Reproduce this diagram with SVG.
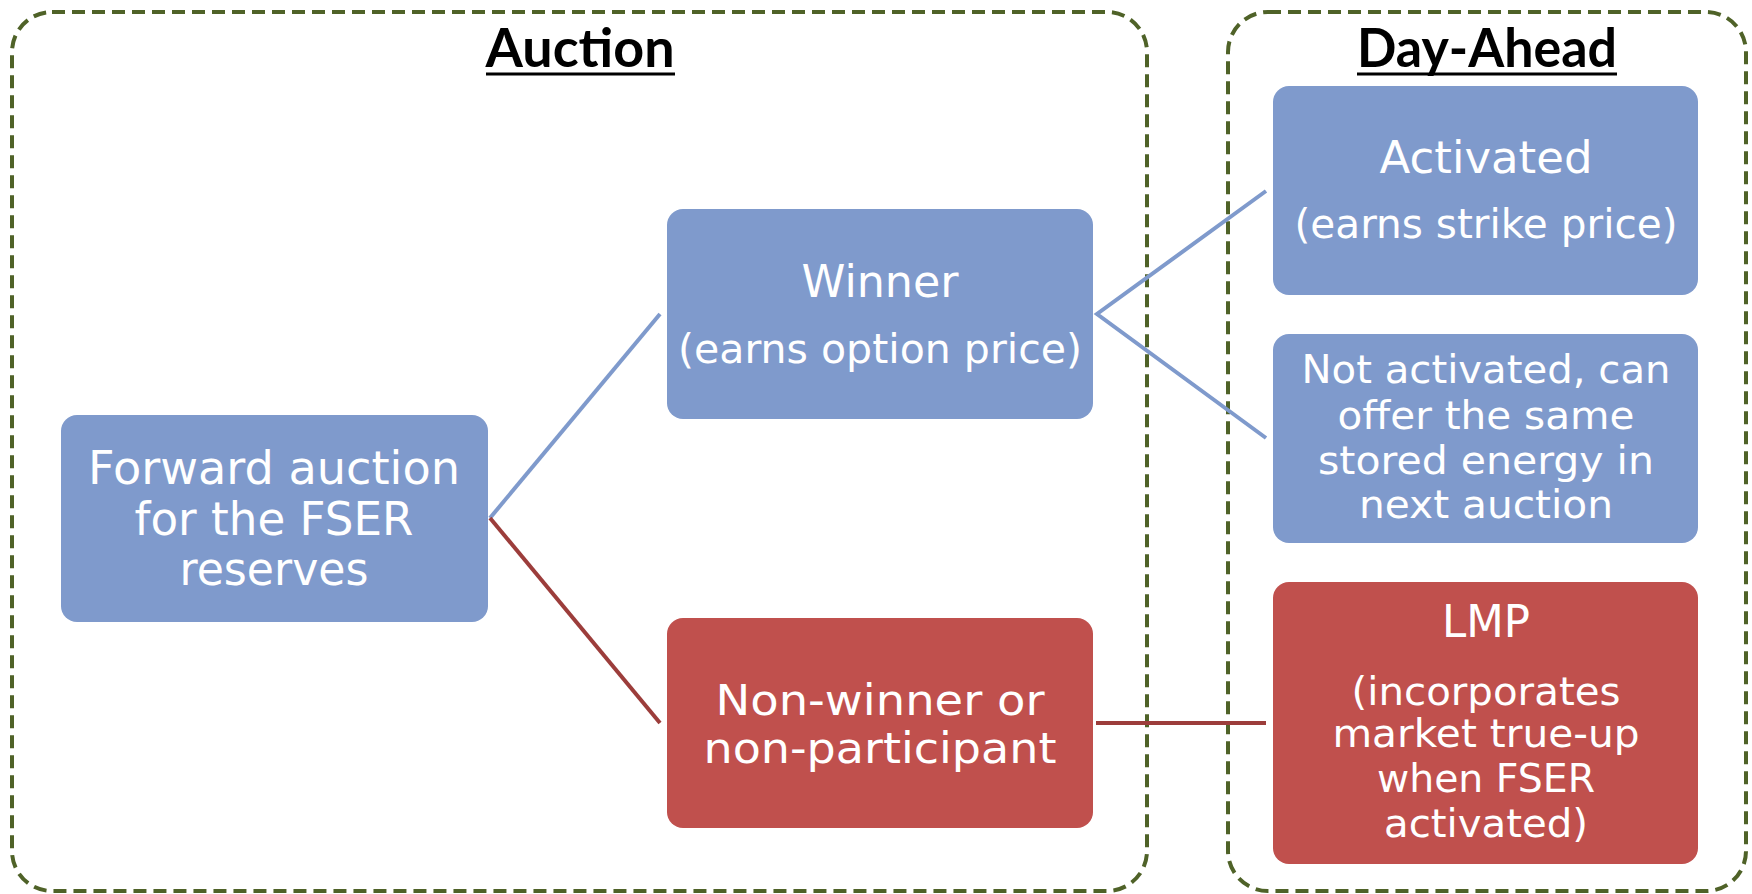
<svg xmlns="http://www.w3.org/2000/svg" width="1752" height="894" viewBox="0 0 1752 894">
  <style>
    .zone { fill: none; stroke: #4F6228; stroke-width: 4; stroke-dasharray: 13 7; }
    .title { font-family: Lato, "Liberation Sans", sans-serif; font-weight: 700; font-size: 54px; fill: #000; text-anchor: middle; }
    .uline { stroke: #000; stroke-width: 3; }
    .blue { fill: #7F9ACC; }
    .red { fill: #C0504D; }
    .lbl { font-family: "DejaVu Sans", sans-serif; fill: #fff; text-anchor: middle; }
    .link-blue { stroke: #7F9ACC; stroke-width: 4; fill: none; }
    .link-red { stroke: #9C3D3B; stroke-width: 4; fill: none; }
  </style>

  <!-- phase containers -->
  <g id="auction-zone">
    <rect class="zone" x="12" y="12" width="1135" height="879" rx="40" ry="40"/>
    <text class="title" x="580" y="67" textLength="189" lengthAdjust="spacingAndGlyphs">Auction</text>
    <line class="uline" x1="486" y1="74" x2="675" y2="74"/>
  </g>
  <g id="day-ahead-zone">
    <rect class="zone" x="1228" y="12" width="518" height="879" rx="40" ry="40"/>
    <text class="title" x="1487" y="67" textLength="260" lengthAdjust="spacingAndGlyphs">Day-Ahead</text>
    <line class="uline" x1="1357" y1="74" x2="1617" y2="74"/>
  </g>

  <!-- connectors -->
  <g id="connectors">
    <line class="link-blue" x1="490" y1="518" x2="660" y2="314"/>
    <line class="link-red" x1="490" y1="518" x2="660" y2="723"/>
    <polyline class="link-blue" points="1266,191 1097,314 1266,438"/>
    <line class="link-red" x1="1096" y1="723" x2="1266" y2="723"/>
  </g>

  <g id="forward-auction">
    <rect class="blue" x="61" y="415" width="427" height="207" rx="16" ry="16"/>
    <text class="lbl" font-size="46" x="274" y="484" textLength="372" lengthAdjust="spacingAndGlyphs">Forward auction</text>
    <text class="lbl" font-size="46" x="274" y="535" textLength="279" lengthAdjust="spacingAndGlyphs">for the FSER</text>
    <text class="lbl" font-size="46" x="274" y="585" textLength="189" lengthAdjust="spacingAndGlyphs">reserves</text>
  </g>

  <g id="winner">
    <rect class="blue" x="667" y="209" width="426" height="210" rx="16" ry="16"/>
    <text class="lbl" x="880" y="297" font-size="44" textLength="157" lengthAdjust="spacingAndGlyphs">Winner</text>
    <text class="lbl" x="880" y="363" font-size="41" textLength="404" lengthAdjust="spacingAndGlyphs">(earns option price)</text>
  </g>

  <g id="non-winner">
    <rect class="red" x="667" y="618" width="426" height="210" rx="16" ry="16"/>
    <text class="lbl" font-size="43" x="880" y="715" textLength="329" lengthAdjust="spacingAndGlyphs">Non-winner or</text>
    <text class="lbl" font-size="43" x="880" y="763" textLength="353" lengthAdjust="spacingAndGlyphs">non-participant</text>
  </g>

  <g id="activated">
    <rect class="blue" x="1273" y="86" width="425" height="209" rx="16" ry="16"/>
    <text class="lbl" x="1486" y="173" font-size="45" textLength="213" lengthAdjust="spacingAndGlyphs">Activated</text>
    <text class="lbl" x="1486" y="238" font-size="40" textLength="383" lengthAdjust="spacingAndGlyphs">(earns strike price)</text>
  </g>

  <g id="not-activated">
    <rect class="blue" x="1273" y="334" width="425" height="209" rx="16" ry="16"/>
    <text class="lbl" font-size="39" x="1486" y="383" textLength="369" lengthAdjust="spacingAndGlyphs">Not activated, can</text>
    <text class="lbl" font-size="39" x="1486" y="429" textLength="297" lengthAdjust="spacingAndGlyphs">offer the same</text>
    <text class="lbl" font-size="39" x="1486" y="474" textLength="336" lengthAdjust="spacingAndGlyphs">stored energy in</text>
    <text class="lbl" font-size="39" x="1486" y="518" textLength="254" lengthAdjust="spacingAndGlyphs">next auction</text>
  </g>

  <g id="lmp">
    <rect class="red" x="1273" y="582" width="425" height="282" rx="16" ry="16"/>
    <text class="lbl" x="1486" y="637" font-size="44" textLength="88" lengthAdjust="spacingAndGlyphs">LMP</text>
    <text class="lbl" font-size="39" x="1486" y="705" textLength="269" lengthAdjust="spacingAndGlyphs">(incorporates</text>
    <text class="lbl" font-size="39" x="1486" y="747" textLength="307" lengthAdjust="spacingAndGlyphs">market true-up</text>
    <text class="lbl" font-size="39" x="1486" y="792" textLength="218" lengthAdjust="spacingAndGlyphs">when FSER</text>
    <text class="lbl" font-size="39" x="1486" y="837" textLength="204" lengthAdjust="spacingAndGlyphs">activated)</text>
  </g>
</svg>
